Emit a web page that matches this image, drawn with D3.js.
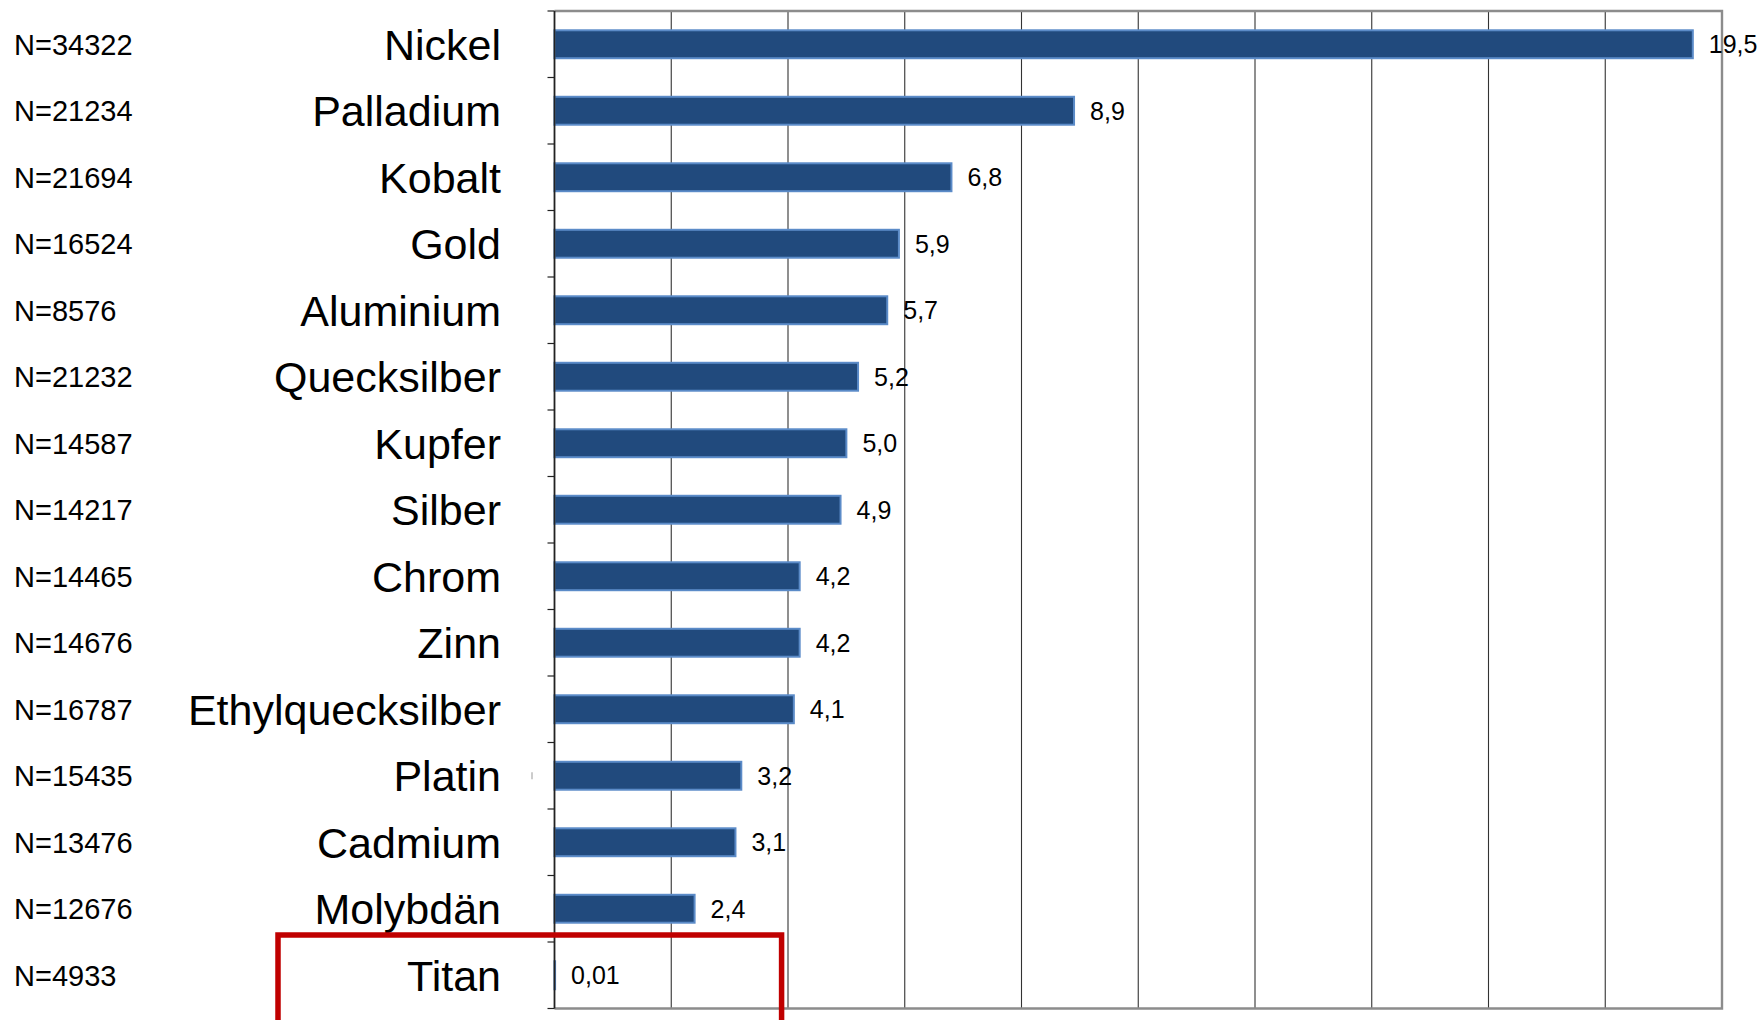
<!DOCTYPE html>
<html>
<head>
<meta charset="utf-8">
<script src="https://cdn.jsdelivr.net/npm/d3@7"></script>
<style>
  body { margin: 0; background: #fff; }
  svg { display: block; font-family: "Liberation Sans", Arial, sans-serif; }
</style>
</head>
<body>
<div id="chart"></div>
<script>
const categories = ['Nickel', 'Palladium', 'Kobalt', 'Gold', 'Aluminium', 'Quecksilber', 'Kupfer',
  'Silber', 'Chrom', 'Zinn', 'Ethylquecksilber', 'Platin', 'Cadmium', 'Molybdän', 'Titan'];
const counts = [34322, 21234, 21694, 16524, 8576, 21232, 14587, 14217, 14465, 14676, 16787, 15435, 13476, 12676, 4933];
const values = [19.5, 8.9, 6.8, 5.9, 5.7, 5.2, 5.0, 4.9, 4.2, 4.2, 4.1, 3.2, 3.1, 2.4, 0.01];
const xDomain = [0, 20];
const highlighted = 'Titan';

const width = 1760;
const height = 1020;
const margin = { top: 11, right: 38, bottom: 11.5, left: 554.5 };
const innerW = width - margin.left - margin.right;
const innerH = height - margin.top - margin.bottom;

const colors = {
  bar: '#214a7d',
  barEdge: '#5b8bc8',
  grid: '#333',
  frame: '#8c8c8c',
  axis: '#222',
  red: '#c00000',
};

const de = d3.formatLocale({ decimal: ',', thousands: '.', grouping: [3], currency: ['', '€'] });
const fmt = v => (v < 0.1 ? de.format('.2f')(v) : de.format('.1f')(v));

const svg = d3.select('#chart')
  .append('svg')
  .attr('width', width)
  .attr('height', height);

const g = svg.append('g')
  .attr('transform', `translate(${margin.left},${margin.top})`);

const x = d3.scaleLinear()
  .domain(xDomain)
  .range([0, innerW]);

const y = d3.scaleBand()
  .domain(categories)
  .range([0, innerH])
  .paddingInner(0.58)
  .paddingOuter(0.29);

const step = y.step();
const center = d => y(d) + y.bandwidth() / 2;

// vertical gridlines
g.append('g')
  .attr('class', 'grid')
  .selectAll('line')
  .data(x.ticks(10).filter(t => t > xDomain[0] && t < xDomain[1]))
  .enter()
  .append('line')
  .attr('x1', d => x(d))
  .attr('x2', d => x(d))
  .attr('y1', 0)
  .attr('y2', innerH)
  .attr('stroke', colors.grid)
  .attr('stroke-width', 1.1);

// plot frame (top, right, bottom)
g.append('path')
  .attr('d', `M0,0H${innerW}V${innerH}H0`)
  .attr('fill', 'none')
  .attr('stroke', colors.frame)
  .attr('stroke-width', 2.4);

// bars
g.append('g')
  .attr('class', 'bars')
  .selectAll('rect')
  .data(categories)
  .enter()
  .append('rect')
  .attr('x', 0)
  .attr('y', d => y(d))
  .attr('width', (d, i) => x(values[i]))
  .attr('height', y.bandwidth())
  .attr('fill', colors.bar)
  .attr('stroke', colors.barEdge)
  .attr('stroke-width', 2);

// value labels
g.append('g')
  .attr('class', 'values')
  .selectAll('text')
  .data(categories)
  .enter()
  .append('text')
  .attr('x', (d, i) => x(values[i]) + 16)
  .attr('y', d => center(d))
  .attr('dy', '0.36em')
  .attr('font-size', 25)
  .attr('fill', '#000')
  .text((d, i) => fmt(values[i]));

// left axis with ticks on band boundaries
const axis = g.append('g').attr('class', 'axis');
axis.append('line')
  .attr('x1', 0)
  .attr('x2', 0)
  .attr('y1', 0)
  .attr('y2', innerH)
  .attr('stroke', colors.axis)
  .attr('stroke-width', 1.8);

axis.selectAll('.tick')
  .data(d3.range(categories.length + 1))
  .enter()
  .append('line')
  .attr('class', 'tick')
  .attr('x1', -7)
  .attr('x2', 0)
  .attr('y1', i => i * step)
  .attr('y2', i => i * step)
  .attr('stroke', colors.axis)
  .attr('stroke-width', 1.2);

// category names
svg.append('g')
  .attr('class', 'names')
  .selectAll('text')
  .data(categories)
  .enter()
  .append('text')
  .attr('x', 501)
  .attr('y', d => margin.top + center(d))
  .attr('dy', '0.36em')
  .attr('text-anchor', 'end')
  .attr('font-size', 43)
  .attr('fill', '#000')
  .text(d => d);

// sample sizes
svg.append('g')
  .attr('class', 'counts')
  .selectAll('text')
  .data(categories)
  .enter()
  .append('text')
  .attr('x', 14)
  .attr('y', d => margin.top + center(d))
  .attr('dy', '0.36em')
  .attr('font-size', 29)
  .attr('fill', '#000')
  .text((d, i) => `N=${counts[i]}`);

// stray cursor mark next to Platin
svg.append('line')
  .attr('x1', 532)
  .attr('x2', 532)
  .attr('y1', margin.top + center('Platin') - 3.5)
  .attr('y2', margin.top + center('Platin') + 3.5)
  .attr('stroke', '#999')
  .attr('stroke-width', 1);

// red highlight box around Titan
const hiTop = margin.top + categories.indexOf(highlighted) * step - 7;
svg.append('rect')
  .attr('x', 278)
  .attr('y', hiTop)
  .attr('width', margin.left + x(3.89) - 278)
  .attr('height', height + 3 - hiTop)
  .attr('fill', 'none')
  .attr('stroke', colors.red)
  .attr('stroke-width', 5.5);
</script>
</body>
</html>
